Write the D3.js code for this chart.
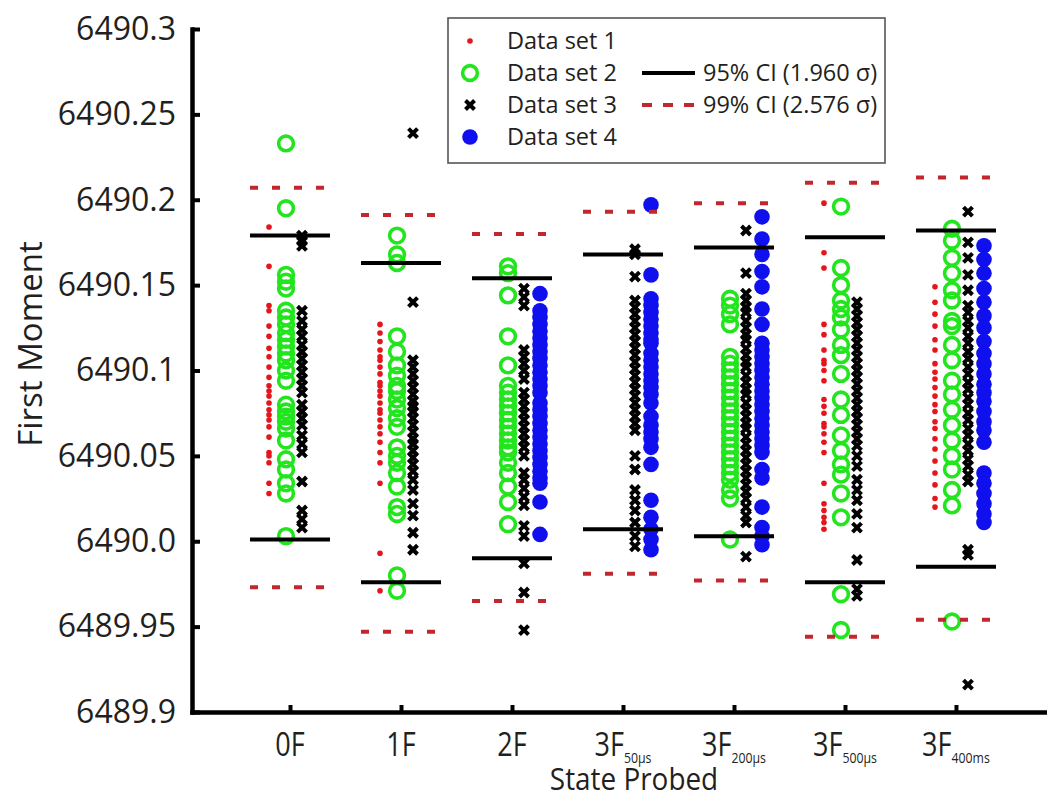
<!DOCTYPE html>
<html>
<head>
<meta charset="utf-8">
<script src="https://cdn.jsdelivr.net/npm/d3@7"></script>
<style>
  html, body { margin: 0; padding: 0; background: #fff; }
  svg { display: block; }
</style>
</head>
<body>
<svg id="chart" width="1047" height="799"></svg>
<script>
// Probed states (main label + subscript)
const categories = ["0F", "1F", "2F", "3F", "3F", "3F", "3F"];
const subscripts = ["", "", "", "50µs", "200µs", "500µs", "400ms"];

// Data set 1 (one array per probed state)
const set1 = [
  [6490.184, 6490.161, 6490.138, 6490.135, 6490.126, 6490.120, 6490.113, 6490.108, 6490.102, 6490.096, 6490.091, 6490.088, 6490.085, 6490.081, 6490.077, 6490.074, 6490.071, 6490.067, 6490.061, 6490.052, 6490.050, 6490.046, 6490.034, 6490.028],
  [6490.127, 6490.122, 6490.117, 6490.112, 6490.108, 6490.106, 6490.102, 6490.098, 6490.093, 6490.091, 6490.088, 6490.085, 6490.081, 6490.077, 6490.075, 6490.071, 6490.067, 6490.063, 6490.058, 6490.052, 6490.046, 6490.034, 6489.993, 6489.971],
  [],
  [],
  [],
  [6490.198, 6490.169, 6490.160, 6490.127, 6490.121, 6490.112, 6490.106, 6490.104, 6490.100, 6490.094, 6490.083, 6490.079, 6490.075, 6490.069, 6490.067, 6490.063, 6490.058, 6490.052, 6490.034, 6490.022, 6490.018, 6490.014, 6490.011, 6490.007],
  [6490.149, 6490.140, 6490.133, 6490.126, 6490.118, 6490.112, 6490.104, 6490.099, 6490.095, 6490.090, 6490.085, 6490.080, 6490.076, 6490.070, 6490.066, 6490.060, 6490.054, 6490.047, 6490.040, 6490.033, 6490.025, 6490.020]
];

// Data set 2
const set2 = [
  [6490.233, 6490.195, 6490.156, 6490.152, 6490.148, 6490.135, 6490.131, 6490.127, 6490.122, 6490.118, 6490.114, 6490.110, 6490.106, 6490.100, 6490.094, 6490.080, 6490.076, 6490.073, 6490.070, 6490.066, 6490.059, 6490.048, 6490.042, 6490.034, 6490.028, 6490.003],
  [6490.179, 6490.168, 6490.163, 6490.120, 6490.111, 6490.103, 6490.097, 6490.091, 6490.088, 6490.083, 6490.078, 6490.072, 6490.067, 6490.055, 6490.050, 6490.046, 6490.040, 6490.032, 6490.020, 6490.016, 6489.980, 6489.971],
  [6490.161, 6490.157, 6490.144, 6490.120, 6490.103, 6490.091, 6490.087, 6490.083, 6490.079, 6490.075, 6490.071, 6490.067, 6490.063, 6490.059, 6490.055, 6490.052, 6490.046, 6490.040, 6490.032, 6490.023, 6490.010],
  [],
  [6490.142, 6490.138, 6490.133, 6490.127, 6490.108, 6490.104, 6490.100, 6490.096, 6490.092, 6490.088, 6490.084, 6490.080, 6490.076, 6490.072, 6490.068, 6490.064, 6490.060, 6490.056, 6490.052, 6490.048, 6490.044, 6490.040, 6490.036, 6490.030, 6490.025, 6490.001],
  [6490.196, 6490.160, 6490.150, 6490.141, 6490.136, 6490.131, 6490.124, 6490.115, 6490.109, 6490.098, 6490.083, 6490.074, 6490.062, 6490.053, 6490.045, 6490.039, 6490.028, 6490.014, 6489.969, 6489.948],
  [6490.183, 6490.176, 6490.166, 6490.157, 6490.147, 6490.141, 6490.129, 6490.126, 6490.115, 6490.106, 6490.094, 6490.086, 6490.077, 6490.068, 6490.059, 6490.050, 6490.042, 6490.030, 6490.021, 6489.953]
];

// Data set 3
const set3 = [
  [6490.179, 6490.176, 6490.173, 6490.135, 6490.129, 6490.124, 6490.120, 6490.115, 6490.111, 6490.107, 6490.103, 6490.099, 6490.095, 6490.091, 6490.087, 6490.080, 6490.076, 6490.072, 6490.068, 6490.062, 6490.057, 6490.052, 6490.035, 6490.018, 6490.013, 6490.008],
  [6490.239, 6490.140, 6490.106, 6490.102, 6490.098, 6490.094, 6490.090, 6490.086, 6490.082, 6490.079, 6490.076, 6490.072, 6490.068, 6490.064, 6490.060, 6490.057, 6490.053, 6490.049, 6490.045, 6490.041, 6490.036, 6490.030, 6490.022, 6490.015, 6490.005, 6489.995],
  [6490.148, 6490.143, 6490.138, 6490.112, 6490.108, 6490.104, 6490.100, 6490.095, 6490.087, 6490.083, 6490.079, 6490.075, 6490.071, 6490.067, 6490.063, 6490.059, 6490.055, 6490.050, 6490.040, 6490.036, 6490.031, 6490.026, 6490.021, 6490.009, 6490.003, 6489.987, 6489.970, 6489.948],
  [6490.171, 6490.168, 6490.155, 6490.141, 6490.137, 6490.133, 6490.129, 6490.125, 6490.121, 6490.117, 6490.113, 6490.109, 6490.105, 6490.101, 6490.097, 6490.093, 6490.089, 6490.085, 6490.081, 6490.077, 6490.073, 6490.069, 6490.065, 6490.050, 6490.042, 6490.030, 6490.024, 6490.018, 6490.011, 6490.003, 6489.997],
  [6490.182, 6490.157, 6490.145, 6490.141, 6490.137, 6490.134, 6490.129, 6490.125, 6490.121, 6490.118, 6490.113, 6490.109, 6490.105, 6490.102, 6490.097, 6490.093, 6490.089, 6490.086, 6490.081, 6490.077, 6490.073, 6490.069, 6490.066, 6490.061, 6490.057, 6490.053, 6490.049, 6490.045, 6490.041, 6490.037, 6490.033, 6490.029, 6490.025, 6490.020, 6490.015, 6490.011, 6489.991],
  [6490.140, 6490.136, 6490.132, 6490.128, 6490.124, 6490.120, 6490.116, 6490.112, 6490.108, 6490.104, 6490.100, 6490.096, 6490.092, 6490.088, 6490.084, 6490.080, 6490.076, 6490.072, 6490.068, 6490.064, 6490.060, 6490.056, 6490.050, 6490.044, 6490.036, 6490.030, 6490.024, 6490.016, 6490.008, 6489.989, 6489.972, 6489.968],
  [6490.193, 6490.175, 6490.166, 6490.156, 6490.147, 6490.138, 6490.134, 6490.129, 6490.125, 6490.120, 6490.116, 6490.111, 6490.107, 6490.102, 6490.098, 6490.093, 6490.089, 6490.084, 6490.080, 6490.075, 6490.071, 6490.066, 6490.062, 6490.057, 6490.053, 6490.048, 6490.044, 6490.039, 6490.035, 6489.995, 6489.992, 6489.916]
];

// Data set 4
const set4 = [
  [],
  [],
  [6490.145, 6490.135, 6490.131, 6490.127, 6490.123, 6490.119, 6490.115, 6490.111, 6490.107, 6490.103, 6490.099, 6490.095, 6490.091, 6490.087, 6490.081, 6490.077, 6490.073, 6490.069, 6490.065, 6490.061, 6490.057, 6490.053, 6490.049, 6490.045, 6490.041, 6490.037, 6490.034, 6490.023, 6490.004],
  [6490.197, 6490.156, 6490.142, 6490.138, 6490.134, 6490.130, 6490.126, 6490.122, 6490.118, 6490.116, 6490.110, 6490.106, 6490.102, 6490.098, 6490.094, 6490.090, 6490.086, 6490.081, 6490.073, 6490.068, 6490.064, 6490.060, 6490.055, 6490.045, 6490.024, 6490.014, 6490.007, 6490.001, 6489.995],
  [6490.190, 6490.177, 6490.168, 6490.158, 6490.149, 6490.136, 6490.127, 6490.116, 6490.112, 6490.108, 6490.104, 6490.100, 6490.096, 6490.092, 6490.088, 6490.084, 6490.080, 6490.076, 6490.072, 6490.068, 6490.064, 6490.060, 6490.056, 6490.052, 6490.042, 6490.037, 6490.020, 6490.008, 6490.003, 6489.998],
  [],
  [6490.173, 6490.165, 6490.157, 6490.148, 6490.140, 6490.132, 6490.125, 6490.117, 6490.110, 6490.104, 6490.098, 6490.092, 6490.087, 6490.082, 6490.076, 6490.070, 6490.065, 6490.058, 6490.040, 6490.034, 6490.028, 6490.022, 6490.016, 6490.011]
];

// Confidence interval bounds per probed state
const ci95High = [6490.179, 6490.163, 6490.154, 6490.168, 6490.172, 6490.178, 6490.182];
const ci95Low  = [6490.001, 6489.976, 6489.990, 6490.007, 6490.003, 6489.976, 6489.985];
const ci99High = [6490.207, 6490.191, 6490.180, 6490.193, 6490.198, 6490.210, 6490.213];
const ci99Low  = [6489.973, 6489.947, 6489.965, 6489.981, 6489.977, 6489.944, 6489.954];

// Y axis ticks
const yTicks = [6489.9, 6489.95, 6490.0, 6490.05, 6490.1, 6490.15, 6490.2, 6490.25, 6490.3];
const yTickLabels = ["6489.9", "6489.95", "6490.0", "6490.05", "6490.1", "6490.15", "6490.2", "6490.25", "6490.3"];

// Legend entries
const legendSets = ["Data set 1", "Data set 2", "Data set 3", "Data set 4"];
const legendCI = ["95% CI (1.960 σ)", "99% CI (2.576 σ)"];

// ---- styling ----
const TEXT = "#231f20";
const RED_DOT = "#e5151b";
const GREEN = "#22e51e";
const BLUE = "#1010ee";
const CI_RED = "#c1272d";
const FONT = "'Open Sans', 'Noto Sans', sans-serif";

const svg = d3.select("#chart");

const x = d3.scaleLinear().domain([-0.883, 6.82]).range([192, 1047]);
const y = d3.scaleLinear().domain([6489.9, 6490.3]).range([712, 29]);

// column offsets (px) of each data set within a state
const off = { s1: -21, s2: -4, s3: 12, s4: 28 };
const CI_HALF = 40;
const DASH = "8,14";

const plot = svg.append("g");

// Data set 1: small red dots
set1.forEach((vals, i) => {
  plot.append("g").selectAll("circle").data(vals).join("circle")
    .attr("cx", x(i) + off.s1).attr("cy", d => y(d)).attr("r", 2.8)
    .attr("fill", RED_DOT);
});

// Data set 2: open green circles
set2.forEach((vals, i) => {
  plot.append("g").selectAll("circle").data(vals).join("circle")
    .attr("cx", x(i) + off.s2).attr("cy", d => y(d)).attr("r", 7.4)
    .attr("fill", "none").attr("stroke", GREEN).attr("stroke-width", 3.6);
});

// Data set 3: black crosses
const xMark = "M-4.5,-4.5L4.5,4.5M-4.5,4.5L4.5,-4.5";
set3.forEach((vals, i) => {
  plot.append("g").selectAll("path").data(vals).join("path")
    .attr("d", xMark)
    .attr("transform", d => `translate(${x(i) + off.s3},${y(d)})`)
    .attr("stroke", "#000").attr("stroke-width", 4).attr("fill", "none");
});

// Data set 4: filled blue circles
set4.forEach((vals, i) => {
  plot.append("g").selectAll("circle").data(vals).join("circle")
    .attr("cx", x(i) + off.s4).attr("cy", d => y(d)).attr("r", 7.8)
    .attr("fill", BLUE);
});

// Confidence interval bars
const idx = d3.range(categories.length);
function ciLines(vals, color, dash) {
  plot.append("g").selectAll("line").data(idx).join("line")
    .attr("x1", i => x(i) - CI_HALF).attr("x2", i => x(i) + CI_HALF)
    .attr("y1", i => y(vals[i])).attr("y2", i => y(vals[i]))
    .attr("stroke", color).attr("stroke-width", 4)
    .attr("stroke-dasharray", dash);
}
ciLines(ci95High, "#000", null);
ciLines(ci95Low, "#000", null);
ciLines(ci99High, CI_RED, DASH);
ciLines(ci99Low, CI_RED, DASH);

// ---- axes ----
const yAxis = d3.axisLeft(y).tickValues(yTicks)
  .tickFormat((d, i) => yTickLabels[i])
  .tickSizeInner(-8).tickSizeOuter(0).tickPadding(16);
const gy = svg.append("g").attr("transform", "translate(192,0)").call(yAxis);
gy.select(".domain").attr("stroke", "#000").attr("stroke-width", 4.5).attr("stroke-linecap", "square");
gy.selectAll(".tick line").attr("stroke", "#000").attr("stroke-width", 4);
gy.selectAll(".tick text").attr("font-family", FONT).attr("font-size", 32).attr("fill", TEXT);

const xAxis = d3.axisBottom(x).tickValues(idx).tickFormat("")
  .tickSizeInner(-7).tickSizeOuter(0);
const gx = svg.append("g").attr("transform", "translate(0,712)").call(xAxis);
gx.select(".domain").attr("stroke", "#000").attr("stroke-width", 4.5).attr("stroke-linecap", "square");
gx.selectAll(".tick line").attr("stroke", "#000").attr("stroke-width", 4);

// category labels with subscripts (horizontally condensed)
const lab = svg.append("g").selectAll("text").data(idx).join("text")
  .attr("transform", i => `translate(${x(i)},756) scale(0.82,1)`)
  .attr("text-anchor", "middle")
  .attr("font-family", FONT).attr("font-size", 33).attr("fill", TEXT);
lab.append("tspan").text(i => categories[i]);
lab.filter(i => subscripts[i]).append("tspan")
  .attr("dy", 7).attr("font-size", 15).text(i => subscripts[i]);

// axis titles
svg.append("text").attr("transform", "translate(634,790) scale(0.9,1)")
  .attr("text-anchor", "middle")
  .attr("font-family", FONT).attr("font-size", 31).attr("fill", TEXT)
  .text("State Probed");
svg.append("text").attr("transform", "translate(42,344) rotate(-90)")
  .attr("text-anchor", "middle")
  .attr("font-family", FONT).attr("font-size", 33).attr("fill", TEXT)
  .text("First Moment");

// ---- legend ----
const lg = svg.append("g");
lg.append("rect").attr("x", 448).attr("y", 18).attr("width", 437).attr("height", 145)
  .attr("fill", "#fff").attr("stroke", "#555").attr("stroke-width", 1.6);
const rowY = [41, 73, 105, 137];
lg.append("circle").attr("cx", 470).attr("cy", rowY[0]).attr("r", 2.8).attr("fill", RED_DOT);
lg.append("circle").attr("cx", 470).attr("cy", rowY[1]).attr("r", 7.4).attr("fill", "none")
  .attr("stroke", GREEN).attr("stroke-width", 3.6);
lg.append("path").attr("d", xMark).attr("transform", `translate(470,${rowY[2]})`)
  .attr("stroke", "#000").attr("stroke-width", 4);
lg.append("circle").attr("cx", 470).attr("cy", rowY[3]).attr("r", 7.8).attr("fill", BLUE);
lg.selectAll("text.set").data(legendSets).join("text").attr("class", "set")
  .attr("x", 507).attr("y", (d, i) => rowY[i] + 8)
  .attr("font-family", FONT).attr("font-size", 23.5).attr("fill", TEXT).text(d => d);
lg.append("line").attr("x1", 642).attr("x2", 695).attr("y1", rowY[1]).attr("y2", rowY[1])
  .attr("stroke", "#000").attr("stroke-width", 4);
lg.append("line").attr("x1", 642).attr("x2", 695).attr("y1", rowY[2]).attr("y2", rowY[2])
  .attr("stroke", CI_RED).attr("stroke-width", 4).attr("stroke-dasharray", "10,11");
lg.selectAll("text.ci").data(legendCI).join("text").attr("class", "ci")
  .attr("x", 703).attr("y", (d, i) => rowY[i + 1] + 8)
  .attr("font-family", FONT).attr("font-size", 23.5).attr("fill", TEXT).text(d => d);
</script>
</body>
</html>
